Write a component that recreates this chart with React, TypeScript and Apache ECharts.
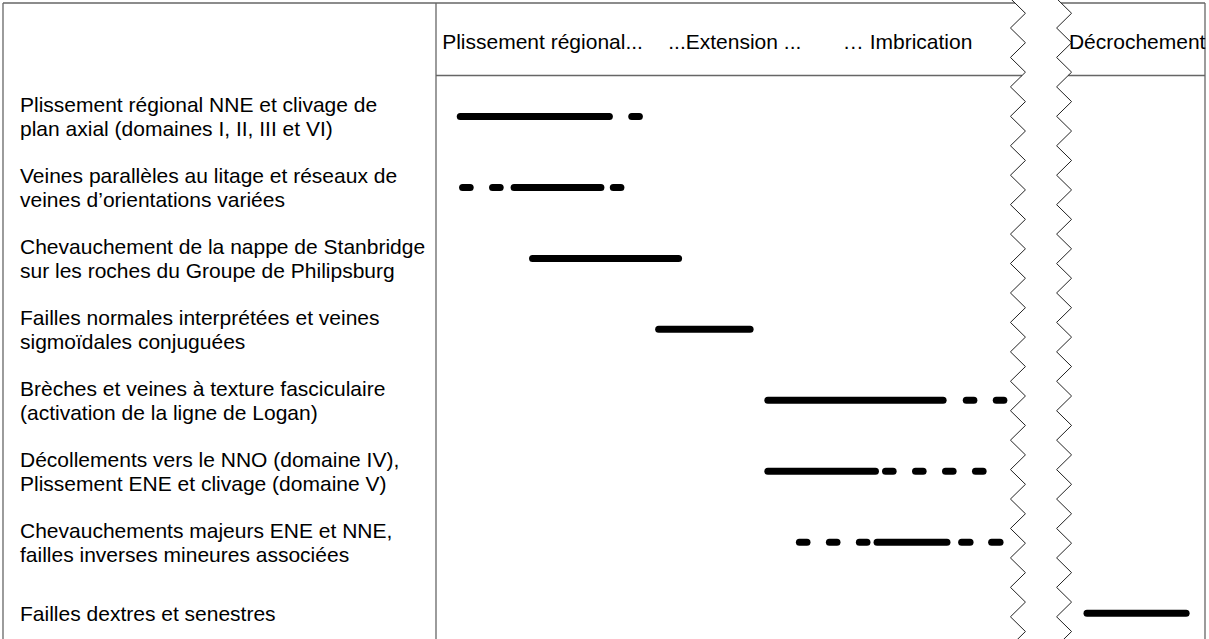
import React, { useEffect, useRef } from "react";
import * as echarts from "echarts";

// Activities (rows, top to bottom)
const activities = [
  "Plissement régional NNE et clivage de\nplan axial (domaines I, II, III et VI)",
  "Veines parallèles au litage et réseaux de\nveines d’orientations variées",
  "Chevauchement de la nappe de Stanbridge\nsur les roches du Groupe de Philipsburg",
  "Failles normales interprétées et veines\nsigmoïdales conjuguées",
  "Brèches et veines à texture fasciculaire\n(activation de la ligne de Logan)",
  "Décollements vers le NNO (domaine IV),\nPlissement ENE et clivage (domaine V)",
  "Chevauchements majeurs ENE et NNE,\nfailles inverses mineures associées",
  "Failles dextres et senestres",
];

// Phase headers and where they start on the relative time axis (0-100)
const phaseLabels = ["Plissement régional...", "...Extension ...", "… Imbrication", "Décrochement"];
const phaseStarts = [0.8, 30.2, 52.9, 82.3];

// Axis break: left edges of the two zigzag lines (relative time units)
const breakEdges = [74.7, 80.7];

// Segments: [start, end, activity index]  (relative time units)
const segments: [number, number, number][] = [
  [2.7, 23.0, 0], [25.0, 26.9, 0],
  [3.0, 4.9, 1], [6.9, 8.8, 1], [9.7, 21.9, 1], [22.6, 24.5, 1],
  [12.1, 32.0, 2],
  [28.5, 41.3, 3],
  [42.7, 66.4, 4], [68.5, 70.4, 4], [72.4, 74.3, 4],
  [42.7, 57.6, 5], [58.0, 59.9, 5], [61.9, 63.8, 5], [65.8, 67.7, 5], [69.7, 71.6, 5],
  [46.8, 48.7, 6], [50.7, 52.6, 6], [54.6, 56.5, 6], [56.9, 66.9, 6], [67.9, 69.9, 6], [71.8, 73.8, 6],
  [84.2, 98.0, 7],
];

const FONT = '"Liberation Sans", Arial, Helvetica, sans-serif';
const FS = 21;
const CHART_H = 660;

export default function App() {
  const ref = useRef<HTMLDivElement>(null);
  useEffect(() => {
    const el = ref.current!;
    const chart = echarts.init(el, null, { renderer: "svg" });
    const LW = 7;
    const option: any = {
      animation: false,
      backgroundColor: "#fff",
      grid: { left: 436, right: 4, top: 81, bottom: CHART_H - 648.7, containLabel: false },
      xAxis: {
        type: "value",
        min: 0,
        max: 100,
        show: false,
        splitLine: { show: false },
      },
      yAxis: {
        type: "category",
        inverse: true,
        data: activities,
        axisLine: { show: false },
        axisTick: { show: false },
        splitLine: { show: false },
        axisLabel: {
          interval: 0,
          align: "left",
          margin: 416,
          fontSize: FS,
          lineHeight: 24,
          color: "#000",
          fontFamily: FONT,
          padding: [0, 0, 4, 0],
        },
      },
      series: [
        {
          type: "custom",
          encode: { x: [0, 1], y: 2 },
          data: segments,
          renderItem: (params: any, api: any) => {
            const p0 = api.coord([api.value(0), api.value(2)]);
            const p1 = api.coord([api.value(1), api.value(2)]);
            return {
              type: "line",
              shape: { x1: p0[0] + LW / 2, y1: p0[1], x2: p1[0] - LW / 2, y2: p1[1] },
              style: { stroke: "#000", lineWidth: LW, lineCap: "round" },
            };
          },
        },
      ],
    };
    chart.setOption(option);

    const px = (v: number) => chart.convertToPixel({ xAxisIndex: 0 }, v) as number;
    const H = CHART_H;
    const TOP = 3;
    const HEADER = 75.5;
    const LEFT = 3;
    const gridLeft = px(0);
    const gridRight = px(100);
    const P = 29.44;
    const A = 15;
    const y0 = 28;
    const zigX = (xl: number, y: number) => {
      const half = P / 2;
      const t = (((y - y0) % P) + P) % P;
      return t < half ? xl + A * (t / half) : xl + A * (1 - (t - half) / half);
    };
    const frame = { stroke: "#666", lineWidth: 1.3 };
    const graphics: any[] = [];
    const hl = (x1: number, x2: number, y: number) =>
      graphics.push({ type: "line", shape: { x1, y1: y, x2, y2: y }, style: frame, silent: true });
    const vl = (x: number, y1: number, y2: number) =>
      graphics.push({ type: "line", shape: { x1: x, y1, x2: x, y2 }, style: frame, silent: true });

    const z1 = px(breakEdges[0]);
    const z2 = px(breakEdges[1]);
    vl(LEFT, TOP, H);
    vl(gridLeft, TOP, H);
    vl(gridRight, TOP, H);
    hl(LEFT, zigX(z1, TOP), TOP);
    hl(zigX(z2, TOP), gridRight, TOP);
    hl(gridLeft, zigX(z1, HEADER), HEADER);
    hl(zigX(z2, HEADER), gridRight, HEADER);

    [z1, z2].forEach((xl) => {
      const pts: number[][] = [];
      for (let k = -1; k * P + y0 < H + P; k++) {
        const yl = y0 + k * P;
        pts.push([xl, yl]);
        pts.push([xl + A, yl + P / 2]);
      }
      graphics.push({
        type: "polyline",
        shape: { points: pts },
        style: { stroke: "#222", lineWidth: 1, fill: null },
        silent: true,
      });
    });

    phaseLabels.forEach((t, i) => {
      graphics.push({
        type: "text",
        x: px(phaseStarts[i]),
        y: 41,
        style: {
          text: t,
          fontSize: FS,
          fontFamily: FONT,
          fill: "#000",
          align: "left",
          verticalAlign: "middle",
        },
        silent: true,
      });
    });

    chart.setOption({ graphic: graphics });
    return () => chart.dispose();
  }, []);
  return (
    <div
      ref={ref}
      style={{ position: "fixed", left: 0, top: 0, width: 1209, height: CHART_H, background: "#fff" }}
    />
  );
}
